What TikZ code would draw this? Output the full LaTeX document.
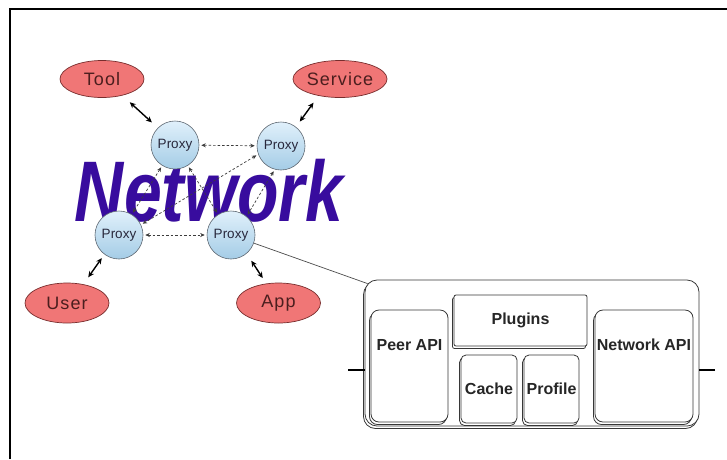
\documentclass[tikz,border=0pt]{standalone}
\usepackage{fontspec}
\setmainfont{Liberation Sans}
\newfontfamily\actorfont[LetterSpace=6]{Liberation Sans}
\usetikzlibrary{arrows.meta,shapes.geometric}

\definecolor{netblue}{RGB}{56,12,158}
\definecolor{actorfill}{RGB}{240,118,118}
\definecolor{actorline}{RGB}{120,45,45}
\definecolor{actortext}{RGB}{75,30,30}
\definecolor{proxytop}{RGB}{224,240,251}
\definecolor{proxybot}{RGB}{164,204,230}
\definecolor{proxyline}{RGB}{95,105,115}
\definecolor{proxytext}{RGB}{40,40,60}
\definecolor{dashgray}{RGB}{60,60,60}
\definecolor{boxline}{RGB}{55,55,55}

\begin{document}
\begin{tikzpicture}[x=1pt,y=-1pt,
  actor/.style={ellipse, draw=actorline, line width=0.7pt, fill=actorfill,
    minimum width=84pt, minimum height=39pt, inner sep=0pt,
    font=\actorfont\fontsize{18}{20}\selectfont, text=actortext},
  proxy/.style={circle, draw=proxyline, line width=0.6pt,
    top color=proxytop, bottom color=proxybot,
    minimum size=48pt, inner sep=0pt,
    font=\fontsize{13.5}{15}\selectfont, text=proxytext},
  link/.style={{Stealth[length=6pt,width=5.5pt]}-{Stealth[length=6pt,width=5.5pt]},
    line width=1.4pt},
  peerlink/.style={{Stealth[length=4.5pt,width=4pt]}-{Stealth[length=4.5pt,width=4pt]},
    dash pattern=on 2.5pt off 2pt, line width=0.7pt, draw=dashgray,
    shorten <=2pt, shorten >=2pt},
  modbox/.style={draw=boxline, line width=0.8pt, fill=white, inner sep=0pt,
    preaction={draw=boxline, line width=0.8pt,
      transform canvas={xshift=-1.5pt,yshift=-2.5pt}}},
  modlabel/.style={font=\fontsize{16}{18}\selectfont\bfseries, inner sep=0pt, text=black!85},
  stub/.style={line width=2pt, draw=black},
  wire/.style={line width=0.7pt, draw=black!70},
  frame/.style={line width=2pt, draw=black}]

% canvas and frame
\fill[white] (0,0) rectangle (727,459);
\useasboundingbox (0,0) rectangle (727,459);
\draw[frame] (10,459) -- (10,9) -- (727,9);

% big title behind the proxies (no descenders, so no depth)
\node[font=\fontsize{86}{90}\selectfont\bfseries\itshape, text=netblue,
      xscale=0.79, anchor=base, inner sep=0pt, text depth=0pt] (title) at (209,221) {Network};

% clients
\node[actor, minimum height=37pt] (tool)    at (102,79)  {Tool};
\node[actor, minimum height=37pt, minimum width=82pt] (service) at (340,79)  {Service};
\node[actor, minimum height=40pt] (user)    at (67,303)  {User};
\node[actor, minimum height=40pt] (app)     at (278.5,303) {App};

% proxies
\node[proxy] (pTL) at (175,145) {Proxy};
\node[proxy] (pTR) at (281,146) {Proxy};
\node[proxy] (pBL) at (119,235) {Proxy};
\node[proxy] (pBR) at (231,235) {Proxy};

% client to proxy links
\draw[link, shorten <=10pt, shorten >=8pt] (tool.321) -- (pTL.135);
\draw[link, shorten <=8.5pt, shorten >=6.5pt] (service.218) -- (pTR.52);
\draw[link, shorten <=8.5pt, shorten >=4.5pt] (user.49) -- (pBL.233);
\draw[link, shorten <=8.5pt, shorten >=6.5pt] (pBR.310) -- (app.122);

% proxy mesh
\draw[peerlink] (pTL) -- (pTR);
\draw[peerlink] (pBL) -- (pBR);
\draw[peerlink] (pTL) -- (pBL);
\draw[peerlink] (pTL) -- (pBR);
\draw[peerlink] (pTR.200) -- (pBL.25);
\draw[peerlink] (pTR.255) -- (pBR.50);

% proxy internals
\node[modbox, rounded corners=12pt, minimum width=334pt, minimum height=146pt,
      preaction={transform canvas={xshift=-2.5pt,yshift=-3.5pt}}] (outer) at (532,353) {};
\node[modbox, rounded corners=8pt, minimum width=77pt, minimum height=112pt] (peer) at (409.5,366) {};
\node[modbox, rounded corners=2pt, minimum width=133pt, minimum height=51pt, modlabel] (plugins) at (520.5,320.5) {Plugins};
\node[modbox, rounded corners=5pt, minimum width=56pt, minimum height=68pt, modlabel] (cache) at (489,389) {Cache};
\node[modbox, rounded corners=5pt, minimum width=55pt, minimum height=68pt, modlabel] (profile) at (551.5,389) {Profile};
\node[modbox, rounded corners=8pt, minimum width=98pt, minimum height=112pt] (netapi) at (644,366) {};
\node[modlabel] (peerlbl) at ([yshift=-35pt]peer.north) {Peer API};
\node[modlabel] (netapilbl) at ([yshift=-35pt]netapi.north) {Network API};

% interface stubs
\coordinate (stubL) at (348,370);
\coordinate (stubR) at (715,370);
\draw[stub] (stubL) -- (stubL -| outer.west);
\draw[stub] (stubR) -- (stubR -| outer.east);

% zoom-out connector from the proxy to its internals
\coordinate (corner) at ([xshift=3pt,yshift=-4pt]outer.north west);
\draw[wire] (pBR) -- (corner);
\end{tikzpicture}
\end{document}
